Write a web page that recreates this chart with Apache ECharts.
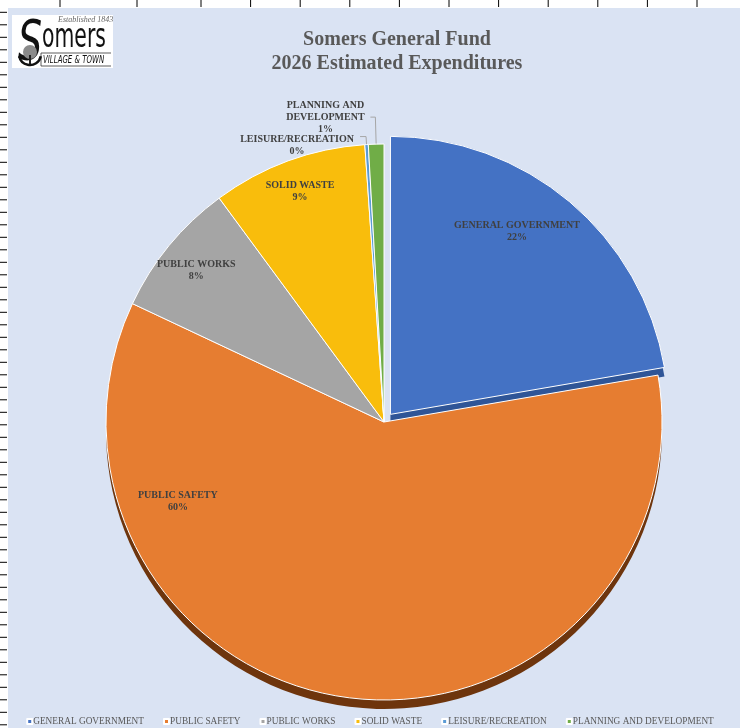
<!DOCTYPE html>
<html><head><meta charset="utf-8">
<script src="https://cdn.jsdelivr.net/npm/echarts@6/dist/echarts.min.js"></script>
<style>html,body{margin:0;padding:0;background:#fff}#c{width:740px;height:728px}</style>
</head><body><div id="c"></div>
<script>
// ---- data ----
const categories = ['GENERAL GOVERNMENT','PUBLIC SAFETY','PUBLIC WORKS','SOLID WASTE','LEISURE/RECREATION','PLANNING AND DEVELOPMENT'];
const shares = [22.3, 59.7, 7.9, 9.0, 0.2, 0.9];
const titleLines = ['Somers General Fund','2026 Estimated Expenditures'];
const explodedSlice = 'GENERAL GOVERNMENT';
const outsideLabels = ['LEISURE/RECREATION','PLANNING AND DEVELOPMENT'];

// ---- styles ----
const topColors = ['#4472c4','#e67d31','#a5a5a5','#f9bd0c','#5b9bd5','#70ad47'];
const rimColors = ['#2f5597','#6e350d','#6e6e6e','#a57c00','#3a6f9f','#4a7a2f'];
const labelShift = {'GENERAL GOVERNMENT':[35,-74],'PUBLIC SAFETY':[-187,-61],'PUBLIC WORKS':[-78,-61],'SOLID WASTE':[-35,-97]};
const lineLen = {'LEISURE/RECREATION':[8,6],'PLANNING AND DEVELOPMENT':[27,5]};
const SERIF = 'Liberation Serif, Times New Roman, serif';
const CENTER = [384, 422], RADIUS = 278;

const chart = echarts.init(document.getElementById('c'), null, {renderer:'canvas'});

function wrap(name){ return name.length > 20 ? name.replace(' AND ', ' AND\n') : name; }

const topData = categories.map((n,i)=>{
  const d = {name:n, value:shares[i], itemStyle:{color:topColors[i]}, selected: n===explodedSlice};
  if (outsideLabels.includes(n)) {
    const key = n.length > 20 ? 'p' : 'l';
    d.label = {position:'outside', padding: key==='l' ? [18,0,0,0] : 0,
      formatter: p => (wrap(p.name)+'\n'+Math.round(p.percent)+'%').split('\n').map(s=>'{'+key+'|'+s+'}').join('\n')};
    d.labelLine = {show:true, length: lineLen[n][0], length2: lineLen[n][1]};
  }
  return d;
});
const rimData = categories.map((n,i)=>({name:n, value:shares[i], itemStyle:{color:rimColors[i]}, selected: n===explodedSlice}));

// decorative spreadsheet ruler + chart area
const deco = [];
deco.push({type:'rect', shape:{x:8,y:8,width:732,height:720}, style:{fill:'#dae3f3'}, z:-10});
for (let y=12.3; y<728; y+=12.5) deco.push({type:'line', shape:{x1:0,y1:y,x2:7,y2:y}, style:{stroke:'#000',lineWidth:1}});
[60,137].concat(Array.from({length:11},(_,k)=>201+49.6*k)).forEach(x=>deco.push({type:'line', shape:{x1:x,y1:0,x2:x,y2:7}, style:{stroke:'#000',lineWidth:1}}));
// logo
const SANS = '"DejaVu Sans", sans-serif';
deco.push({type:'group', x:12, y:15, children:[
  {type:'rect', shape:{x:0,y:0,width:101,height:53}, style:{fill:'#fff'}},
  {type:'text', x:46, y:1, style:{text:'Established 1843', font:'italic 8px '+SERIF, fill:'#666'}},
  {type:'text', x:6, y:1, scaleX:0.68, style:{text:'S', font:'italic 56px '+SANS, fill:'#111'}},
  {type:'text', x:30, y:6, scaleX:0.6, style:{text:'omers', font:'34px '+SANS, fill:'#111'}},
  {type:'text', x:31, y:40, scaleX:0.7, style:{text:'VILLAGE & TOWN', font:'italic 10px '+SANS, fill:'#111'}},
  {type:'line', shape:{x1:29,y1:38,x2:99,y2:38}, style:{stroke:'#333',lineWidth:0.8}},
  {type:'line', shape:{x1:29,y1:51,x2:99,y2:51}, style:{stroke:'#333',lineWidth:0.8}},
  {type:'line', shape:{x1:29,y1:38,x2:29,y2:51}, style:{stroke:'#333',lineWidth:0.8}},
  {type:'circle', shape:{cx:18,cy:37,r:7}, style:{fill:'#8a8a8a'}},
  {type:'rect', shape:{x:17,y:40,width:2,height:9}, style:{fill:'#222'}},
  {type:'arc', shape:{cx:18,cy:39,r:11,startAngle:0.2,endAngle:Math.PI-0.2}, style:{stroke:'#111',lineWidth:2.5,fill:null}}
]});

const option = {
  backgroundColor:'#ffffff',
  graphic: deco,
  title: {text: titleLines.join('\n'), left: 392, textAlign:'center', top: 23,
    textStyle:{fontFamily:SERIF, fontSize:20, fontWeight:'bold', color:'#595959', lineHeight:24}},
  legend: {data: categories, top: 712, left:'center', icon:'rect', itemWidth:5, itemHeight:5, itemGap:19,
    textStyle:{fontFamily:SERIF, fontSize:9.3, color:'#595959', padding:[0,0,0,-4]}},
  series: [
    {type:'pie', name:'top', center:CENTER, radius:RADIUS, startAngle:90, clockwise:true,
     selectedMode:'single', selectedOffset:10, z:2, avoidLabelOverlap:false, animation:false,
     itemStyle:{borderColor:'#ffffff', borderWidth:1},
     label:{position:'inside', fontFamily:SERIF, fontSize:10, fontWeight:'bold', color:'#404040', lineHeight:12,
       distanceToLabelLine:3,
       formatter: p => p.name + '\n' + Math.round(p.percent) + '%',
       rich:{
         p:{width:84, align:'center', fontFamily:SERIF, fontSize:10, fontWeight:'bold', color:'#404040', lineHeight:12},
         l:{width:120, align:'center', fontFamily:SERIF, fontSize:10, fontWeight:'bold', color:'#404040', lineHeight:12}
       }},
     labelLine:{show:false, lineStyle:{color:'#a6a6a6', width:1}},
     labelLayout: p => { const s = labelShift[categories[p.dataIndex]]; return s ? {dx:s[0], dy:s[1]} : {}; },
     emphasis:{disabled:true},
     data: topData},
    {type:'pie', name:'rim', center:[CENTER[0], CENTER[1]+9], radius:RADIUS, startAngle:90, clockwise:true,
     selectedMode:'single', selectedOffset:10, silent:true, z:1, avoidLabelOverlap:false,
     label:{show:false}, labelLine:{show:false}, emphasis:{disabled:true}, data: rimData, animation:false}
  ]
};
chart.setOption(option);
</script></body></html>
